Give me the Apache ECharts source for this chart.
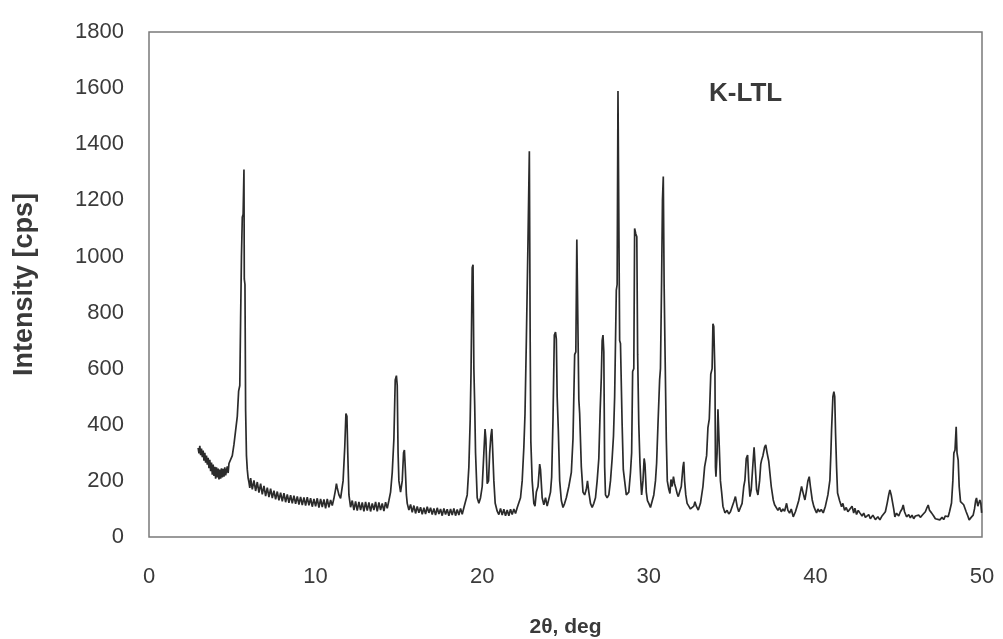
<!DOCTYPE html>
<html>
<head>
<meta charset="utf-8">
<script src="https://cdn.jsdelivr.net/npm/echarts@6/dist/echarts.min.js"></script>
<style>
html,body{margin:0;padding:0;background:#fff;}
#chart{width:1003px;height:639px;}
</style>
</head>
<body>
<div id="chart"></div>
<script>
// X ticks and Y ticks
const xTicks = [0, 10, 20, 30, 40, 50];
const yTicks = [0, 200, 400, 600, 800, 1000, 1200, 1400, 1600, 1800];
const sampleLabel = "K-LTL";

// Scan pieces: [2theta (deg), intensity (cps)]
const scanA = [[2.95,318],[3.0,298],[3.05,325],[3.1,292],[3.15,315],[3.2,285],[3.25,308],[3.3,272],[3.35,300],[3.4,265],[3.45,290],[3.5,258],[3.55,282],[3.6,245],[3.65,275],[3.7,235],[3.75,265],[3.8,222],[3.85,258],[3.9,218],[3.95,250],[4.0,208],[4.05,248],[4.1,212],[4.15,244],[4.2,205],[4.25,240],[4.3,208],[4.35,245],[4.4,212],[4.45,243],[4.5,215],[4.55,248],[4.6,220],[4.7,252],[4.75,228],[4.8,262],[4.9,268],[5.0,290],[5.1,330],[5.2,380],[5.3,430],[5.38,520],[5.45,540],[5.5,780],[5.55,1000],[5.6,1140],[5.65,1150],[5.7,1310],[5.72,920],[5.76,900],[5.8,450],[5.85,290],[5.9,240],[5.95,210],[6.0,195]];
const scanB = [[6.05,175],[6.1,210],[6.2,170],[6.3,202],[6.4,164],[6.5,196],[6.6,158],[6.7,190],[6.8,152],[6.9,182],[7.0,146],[7.1,176],[7.2,142],[7.3,172],[7.4,139],[7.5,165],[7.6,134],[7.7,162],[7.8,131],[7.9,158],[8.0,127],[8.1,156],[8.2,124],[8.3,152],[8.4,122],[8.5,149],[8.6,120],[8.7,147],[8.8,118],[8.9,145],[9.0,116],[9.1,143],[9.2,114],[9.3,141],[9.4,112],[9.5,142],[9.6,113],[9.7,138],[9.8,108],[9.9,136],[10.0,109],[10.1,138],[10.2,105],[10.3,136],[10.4,107],[10.5,134],[10.6,102],[10.7,136],[10.8,106],[10.9,132],[11.0,112]];
const scanC = [[11.1,138],[11.2,170],[11.25,190],[11.3,175],[11.4,150],[11.5,138],[11.55,145],[11.65,200],[11.75,320],[11.82,440],[11.88,430],[11.93,300],[12.0,150],[12.1,106],[12.2,130],[12.3,96],[12.4,127],[12.5,94],[12.6,125],[12.7,96],[12.8,123],[12.9,91],[13.0,125],[13.1,94],[13.2,123],[13.3,91],[13.4,120],[13.5,96],[13.6,125],[13.7,91],[13.8,123],[13.9,96],[14.0,120],[14.1,92],[14.2,124],[14.3,102],[14.4,130],[14.5,160],[14.6,230],[14.7,350],[14.78,560],[14.85,575],[14.9,540],[14.95,300],[15.0,200],[15.1,160],[15.2,200],[15.28,300],[15.33,310],[15.38,250],[15.45,150],[15.5,120],[15.6,96]];
const scanD = [[15.7,116],[15.8,88],[15.9,112],[16.0,84],[16.1,109],[16.2,86],[16.3,106],[16.4,81],[16.5,104],[16.6,82],[16.7,108],[16.8,86],[16.9,104],[17.0,80],[17.1,102],[17.2,78],[17.3,104],[17.4,82],[17.5,100],[17.6,76],[17.7,102],[17.8,80],[17.9,99],[18.0,76],[18.1,100],[18.2,78],[18.3,102],[18.4,76],[18.5,98],[18.6,78],[18.7,102],[18.8,81],[18.9,104],[19.0,110],[19.1,150],[19.2,250],[19.28,420],[19.33,590],[19.4,960],[19.45,970],[19.5,600],[19.55,470],[19.6,300],[19.7,140],[19.8,120],[19.9,140],[20.0,180],[20.1,300],[20.17,385],[20.22,350],[20.3,190],[20.38,200],[20.45,300],[20.52,360],[20.58,385],[20.63,390],[20.7,200],[20.78,120],[20.9,92],[21.0,80],[21.1,102],[21.2,78],[21.3,99],[21.4,76],[21.5,96],[21.6,76],[21.7,99],[21.8,80],[21.9,100],[22.0,84],[22.1,104]];
const scanE = [[22.2,110],[22.3,140],[22.4,200],[22.5,320],[22.57,440],[22.65,700],[22.75,1060],[22.83,1375],[22.88,700],[22.92,340],[23.0,200],[23.1,120],[23.17,110],[23.25,160],[23.35,180],[23.45,260],[23.5,240],[23.6,140],[23.7,115],[23.8,140],[23.9,110],[24.0,108],[24.1,160],[24.17,214],[24.25,420],[24.33,720],[24.4,730],[24.45,705],[24.5,500],[24.57,380],[24.65,200],[24.75,130],[24.85,105],[24.95,120],[25.05,140],[25.2,180],[25.35,230],[25.45,350],[25.55,650],[25.62,660],[25.68,1060],[25.75,1060],[25.8,490],[25.85,440],[25.95,250],[26.05,160],[26.15,150],[26.25,170],[26.32,200],[26.4,160],[26.5,120],[26.6,105],[26.7,120],[26.8,140],[26.9,200],[27.0,280],[27.08,450],[27.15,570],[27.2,700],[27.25,720],[27.3,660],[27.35,250],[27.4,150]];
const scanF = [[27.5,140],[27.6,150],[27.7,200],[27.8,280],[27.88,360],[27.95,500],[28.05,880],[28.1,900],[28.15,1590],[28.2,1590],[28.25,700],[28.3,690],[28.4,400],[28.47,240],[28.55,200],[28.65,150],[28.72,144],[28.8,160],[28.9,230],[28.97,300],[29.03,590],[29.1,600],[29.15,1100],[29.22,1080],[29.28,1070],[29.33,650],[29.4,400],[29.47,264],[29.52,200],[29.57,150],[29.65,200],[29.72,280],[29.77,260],[29.85,160],[29.92,130],[30.0,120],[30.1,105],[30.2,110],[30.3,150],[30.4,200],[30.47,264],[30.55,400],[30.65,560],[30.7,600],[30.77,920],[30.82,1200],[30.87,1285],[30.92,900],[30.97,680],[31.05,350],[31.11,200],[31.2,170],[31.27,155],[31.33,205],[31.4,180],[31.48,215],[31.55,190],[31.62,175],[31.7,155],[31.77,144],[31.85,160],[31.95,180],[32.05,250],[32.1,268],[32.15,200],[32.22,150],[32.3,120],[32.4,110],[32.5,100]];
const scanG = [[32.6,96],[32.7,110],[32.77,126],[32.85,110],[32.97,96],[33.1,120],[33.25,180],[33.35,250],[33.47,290],[33.55,390],[33.63,420],[33.72,580],[33.8,600],[33.85,760],[33.9,750],[33.97,584],[34.0,250],[34.03,215],[34.1,300],[34.15,455],[34.2,450],[34.23,322],[34.3,200],[34.37,161],[34.45,110],[34.57,86],[34.7,95],[34.8,82],[34.9,90],[35.0,95],[35.1,125],[35.2,144],[35.3,110],[35.4,90],[35.5,95],[35.6,120],[35.7,180],[35.77,203],[35.85,280],[35.93,292],[36.0,200],[36.07,144],[36.15,170],[36.25,260],[36.32,320],[36.37,322],[36.42,220],[36.47,168],[36.55,150],[36.65,200],[36.72,260],[36.77,274],[36.85,290],[36.95,320],[37.02,328],[37.1,300],[37.2,270],[37.27,264],[37.35,180],[37.47,132],[37.55,115],[37.65,110],[37.75,95],[37.85,105],[37.95,90]];
const scanH = [[38.05,100],[38.15,92],[38.27,120],[38.35,95],[38.45,85],[38.55,100],[38.67,72],[38.8,90],[38.9,110],[39.0,130],[39.1,160],[39.17,180],[39.25,160],[39.37,132],[39.45,160],[39.55,200],[39.63,215],[39.7,180],[39.81,132],[39.9,110],[40.0,95],[40.07,86],[40.15,100],[40.25,90],[40.35,98],[40.47,86],[40.6,110],[40.75,150],[40.87,203],[40.93,300],[40.97,381],[41.05,500],[41.11,518],[41.16,500],[41.21,370],[41.27,250],[41.33,157],[41.45,130],[41.57,108],[41.65,120],[41.75,95],[41.85,105],[41.95,90],[42.07,96],[42.2,110],[42.3,85],[42.37,103],[42.47,80],[42.57,95],[42.67,86],[42.8,75],[42.9,85],[43.0,70],[43.07,68],[43.2,80],[43.3,65],[43.45,78],[43.6,62],[43.75,72],[43.87,61],[44.0,75],[44.1,70],[44.2,90],[44.31,121],[44.4,150],[44.47,168],[44.55,150],[44.61,144],[44.7,100],[44.77,72],[44.87,85],[45.0,75],[45.1,90],[45.2,100],[45.27,114],[45.35,90],[45.47,72],[45.6,80],[45.7,68],[45.8,78],[45.9,65],[46.0,75],[46.07,68],[46.2,78],[46.3,70],[46.45,80],[46.6,90],[46.7,105],[46.77,114],[46.85,95],[46.97,86],[47.1,75],[47.2,65],[47.3,72],[47.47,61],[47.6,70],[47.7,62],[47.8,75],[47.97,72],[48.05,90],[48.17,121],[48.25,200],[48.31,299],[48.38,310],[48.45,393],[48.5,300],[48.57,274],[48.63,180],[48.71,126],[48.8,130],[48.9,115],[48.97,121],[49.05,90],[49.15,75],[49.23,61],[49.35,70],[49.47,78],[49.55,100],[49.62,130],[49.67,139],[49.75,110],[49.81,103],[49.87,132],[49.93,120],[49.98,86]];

const scan = [].concat(scanA, scanB, scanC, scanD, scanE, scanF, scanG, scanH);

const chart = echarts.init(document.getElementById('chart'), null, {renderer: 'canvas'});
const font = '"Liberation Sans", Arial, sans-serif';
chart.setOption({
  animation: false,
  backgroundColor: '#ffffff',
  title: {
    text: sampleLabel, left: 704, top: 76,
    textStyle: {color: '#3a3a3a', fontSize: 26, fontWeight: 'bold', fontFamily: font}
  },
  grid: {left: 149, top: 32, right: 21, bottom: 102, containLabel: false, outerBoundsMode: 'none', show: true, borderColor: '#7a7a7a', borderWidth: 1.5, backgroundColor: 'transparent'},
  xAxis: {
    type: 'value', min: xTicks[0], max: xTicks[xTicks.length - 1], interval: 10,
    axisLine: {show: false}, axisTick: {show: false}, splitLine: {show: false},
    axisLabel: {color: '#3a3a3a', fontSize: 22, fontFamily: font, margin: 29},
    name: '2θ, deg', nameLocation: 'middle', nameGap: 80,
    nameTextStyle: {color: '#3a3a3a', fontSize: 21, fontWeight: 'bold', fontFamily: font}
  },
  yAxis: {
    type: 'value', min: yTicks[0], max: yTicks[yTicks.length - 1], interval: 200,
    axisLine: {show: false}, axisTick: {show: false}, splitLine: {show: false},
    axisLabel: {color: '#3a3a3a', fontSize: 22, fontFamily: font, margin: 25, formatter: function (v) { return String(v); }},
    name: 'Intensity [cps]', nameLocation: 'middle', nameGap: 111,
    nameTextStyle: {color: '#3a3a3a', fontSize: 27, fontWeight: 'bold', fontFamily: font}
  },
  series: [{
    type: 'line', data: scan, showSymbol: false, smooth: false,
    lineStyle: {color: '#2b2b2b', width: 1.7}
  }]
});
</script>
</body>
</html>
